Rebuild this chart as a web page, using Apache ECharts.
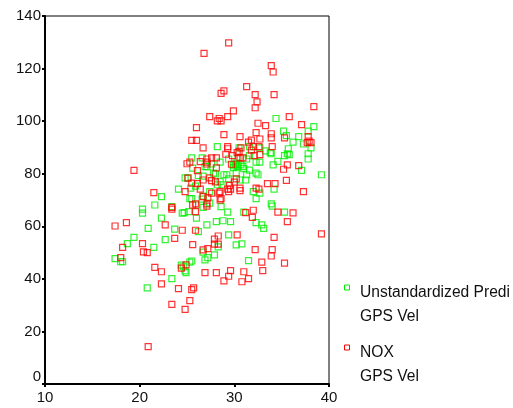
<!DOCTYPE html>
<html>
<head>
<meta charset="utf-8">
<script src="https://cdn.jsdelivr.net/npm/echarts@6/dist/echarts.min.js"></script>
<style>
  html, body { margin: 0; padding: 0; background: #fff; }
  #chart { width: 513px; height: 408px; }
</style>
</head>
<body>
<div id="chart"></div>
<script>
// Axis ranges and tick labels
const xTicks = [10, 20, 30, 40];
const yTicks = [0, 20, 40, 60, 80, 100, 120, 140];

// Series names (legend)
const seriesNames = ['Unstandardized Predi', 'NOX'];
const xVarName = 'GPS Vel';

// Unstandardized predicted value vs GPS Vel
const predicted = [
  [34.4,101.0],[38.4,97.9],[35.2,96.2],[37.8,96.2],[35.5,94.5],[36.8,94.1],[36.2,92.0],[37.3,91.3],
  [38.1,89.8],[28.2,90.3],[30.5,89.8],[31.6,90.3],[32.7,89.8],[33.3,88.7],[33.8,88.0],[33.9,87.6],
  [35.7,89.5],[35.6,87.6],[35.8,87.3],[35.3,86.9],[37.8,87.6],[37.8,85.6],[31.6,86.9],[25.5,86.0],
  [26.6,86.0],[30.4,86.0],[29.4,85.6],[31.3,85.6],[34.6,84.7],[28.5,84.4],[30.2,84.0],[29.9,83.4],
  [30.1,83.4],[30.4,83.4],[30.7,83.4],[32.3,84.4],[32.7,84.4],[34.1,83.4],[37.1,81.3],[39.2,79.6],
  [25.6,82.1],[26.9,82.7],[27.1,82.7],[27.6,83.7],[29.9,82.3],[30.3,82.7],[30.9,82.7],[31.0,81.9],
  [31.6,81.4],[31.3,79.6],[32.3,80.2],[32.5,79.6],[29.2,79.6],[28.9,79.6],[30.2,80.2],[24.8,78.4],
  [25.1,78.4],[26.2,79.3],[27.8,80.2],[28.0,79.9],[28.5,77.0],[28.7,75.8],[28.2,75.8],[29.4,78.0],
  [30.6,77.6],[31.2,77.6],[25.9,75.3],[24.1,74.1],[25.4,74.5],[27.4,73.2],[32.0,73.2],[32.7,72.6],
  [34.2,74.1],[32.3,70.5],[22.3,71.3],[25.3,70.5],[25.5,70.5],[21.6,68.1],[23.4,67.5],[20.3,66.5],
  [20.3,65.0],[22.3,63.1],[26.0,68.1],[24.5,65.0],[24.7,65.2],[25.2,65.6],[20.9,59.2],[23.7,58.9],
  [26.2,58.0],[26.0,63.1],[19.4,55.8],[18.7,53.4],[21.5,52.0],[22.7,54.9],[17.4,47.7],[18.0,46.5],
  [18.2,46.5],[24.4,45.2],[24.6,44.6],[24.8,43.0],[24.9,42.4],[25.5,46.8],[25.3,46.4],[23.4,40.1],
  [20.8,36.6],[26.7,67.2],[28.6,67.5],[33.9,68.5],[34.0,67.7],[29.3,65.4],[31.0,65.4],[35.3,65.4],
  [32.3,61.4],[32.9,60.5],[33.1,59.2],[28.1,61.8],[28.8,62.1],[29.6,61.8],[27.1,60.5],[29.4,56.7],
  [30.2,52.9],[30.8,53.3],[28.3,52.2],[26.7,50.2],[27.9,49.1],[26.9,47.2],[27.2,48.1],[31.5,46.9],
  [26.7,71.5],[26.6,70.3],[27.4,68.8],[26.7,79.1]
];

// Observed NOX vs GPS Vel
const nox = [
  [29.4,129.8],[26.8,125.8],[33.9,121.1],[34.1,118.7],[31.3,113.1],[28.9,111.5],[28.6,110.6],[32.2,110.1],
  [34.2,110.1],[32.4,107.3],[32.2,105.1],[38.4,105.5],[29.9,103.9],[27.4,101.7],[28.4,101.0],[28.6,100.1],
  [28.2,100.1],[29.3,101.7],[35.8,101.7],[32.5,99.2],[33.3,98.3],[37.1,98.7],[26.0,97.5],[28.9,94.9],
  [30.6,94.1],[37.8,94.1],[35.3,93.6],[33.9,95.2],[33.9,93.6],[32.7,93.2],[31.8,92.8],[25.5,92.7],
  [26.0,92.7],[31.5,92.0],[37.9,92.4],[38.1,91.8],[37.7,91.8],[26.7,89.8],[29.3,90.3],[29.3,89.5],
  [30.7,89.8],[32.0,90.3],[32.6,90.3],[34.0,90.3],[31.8,89.0],[30.3,88.0],[30.5,88.5],[32.7,87.3],
  [32.1,86.9],[29.1,87.4],[29.8,86.9],[28.1,86.0],[27.6,86.0],[27.1,85.6],[30.6,86.0],[30.9,86.0],
  [26.4,84.6],[25.3,84.4],[25.0,83.8],[27.1,84.4],[27.1,83.7],[35.6,83.4],[36.8,83.1],[35.2,81.7],
  [28.1,82.2],[26.1,81.2],[27.4,78.4],[27.6,77.4],[28.0,76.9],[30.2,78.0],[30.0,76.8],[35.5,77.5],
  [33.5,76.2],[34.3,76.2],[25.5,76.4],[26.7,77.6],[26.1,76.2],[26.4,74.1],[24.8,73.2],[29.5,75.6],
  [29.6,74.1],[29.4,73.2],[29.3,74.1],[28.5,73.2],[28.4,72.6],[30.6,74.5],[30.6,73.6],[27.6,72.6],
  [32.3,74.5],[32.6,74.1],[37.3,73.2],[28.6,70.5],[26.7,71.3],[19.4,81.3],[25.1,78.3],[21.5,72.8],
  [23.4,67.2],[23.4,66.5],[25.9,65.6],[25.6,68.1],[25.9,68.5],[17.4,60.1],[18.6,61.4],[22.7,60.5],
  [24.5,58.5],[25.9,58.5],[18.2,52.0],[20.3,53.4],[23.7,55.4],[25.6,53.0],[20.4,50.3],[20.8,50.0],
  [18.0,48.1],[21.6,44.4],[22.3,42.7],[24.4,44.1],[24.9,45.3],[22.3,38.1],[24.1,36.3],[25.5,35.9],
  [25.7,36.6],[25.3,31.7],[23.4,30.3],[24.8,28.4],[20.9,14.2],[27.1,68.5],[27.1,67.7],[28.5,70.0],
  [32.0,66.1],[31.9,63.4],[31.2,65.2],[34.6,65.4],[36.2,65.1],[35.6,61.8],[28.3,56.3],[27.9,55.1],
  [27.9,53.2],[28.3,53.2],[30.3,56.7],[34.2,55.8],[39.2,57.1],[26.7,51.0],[27.2,51.5],[32.2,51.1],
  [34.0,51.1],[33.9,48.7],[32.9,46.4],[35.3,46.0],[33.0,43.1],[26.9,42.4],[28.1,42.4],[29.6,43.1],
  [29.4,41.0],[28.9,39.2],[31.0,42.7],[30.8,38.9],[31.5,40.1],[27.2,70.8],[29.7,83.6],[32.3,95.6]
];

const GREEN = '#00ee00';
const RED = '#ff0000';
const FONT = '"Liberation Sans", Arial, sans-serif';
const LEGEND_FONT = '15.6px ' + FONT;

const chart = echarts.init(document.getElementById('chart'), null, { renderer: 'canvas' });

function legendItem(top, color, name) {
  return [
    {
      type: 'rect',
      shape: { x: 344.5, y: top - 3.5, width: 5, height: 5 },
      style: { fill: 'none', stroke: color, lineWidth: 1 }
    },
    {
      type: 'text',
      x: 360, y: top + 4,
      style: { text: name, font: LEGEND_FONT, fill: '#111', verticalAlign: 'middle' }
    },
    {
      type: 'text',
      x: 360, y: top + 28.5,
      style: { text: xVarName, font: LEGEND_FONT, fill: '#111', verticalAlign: 'middle' }
    }
  ];
}

chart.setOption({
  animation: false,
  backgroundColor: '#fff',
  grid: {
    left: 45, right: 184, top: 16, bottom: 24,
    outerBoundsMode: 'none',
    show: true, borderColor: '#000', borderWidth: 1, backgroundColor: 'transparent'
  },
  xAxis: {
    type: 'value',
    min: xTicks[0], max: xTicks[xTicks.length - 1], interval: 10,
    axisLine: { show: true, onZero: false, lineStyle: { color: '#000', width: 2 } },
    axisTick: { show: true, length: 3, lineStyle: { color: '#000', width: 2 } },
    axisLabel: { color: '#111', fontSize: 15, fontFamily: FONT, margin: 6 },
    splitLine: { show: false }
  },
  yAxis: {
    type: 'value',
    min: yTicks[0], max: yTicks[yTicks.length - 1], interval: 20,
    axisLine: { show: true, onZero: false, lineStyle: { color: '#000', width: 2 } },
    axisTick: { show: true, length: 3, lineStyle: { color: '#000', width: 2 } },
    axisLabel: {
      color: '#111', fontSize: 15, fontFamily: FONT, margin: 4,
      // the zero label sits a little above its tick, clear of the x axis labels
      formatter: v => (v === 0 ? '{z|0}' : String(v)),
      rich: { z: { fontSize: 15, fontFamily: FONT, color: '#111', padding: [0, 0, 14, 0] } }
    },
    splitLine: { show: false }
  },
  series: [
    {
      name: seriesNames[0], type: 'scatter', data: predicted,
      symbol: 'rect', symbolSize: 6,
      itemStyle: { color: 'rgba(0,0,0,0)', borderColor: GREEN, borderWidth: 1.2 }
    },
    {
      name: seriesNames[1], type: 'scatter', data: nox,
      symbol: 'rect', symbolSize: 6,
      itemStyle: { color: 'rgba(0,0,0,0)', borderColor: RED, borderWidth: 1.2 }
    }
  ],
  graphic: [].concat(
    legendItem(288.5, GREEN, seriesNames[0]),
    legendItem(348.5, RED, seriesNames[1])
  )
});
</script>
</body>
</html>
